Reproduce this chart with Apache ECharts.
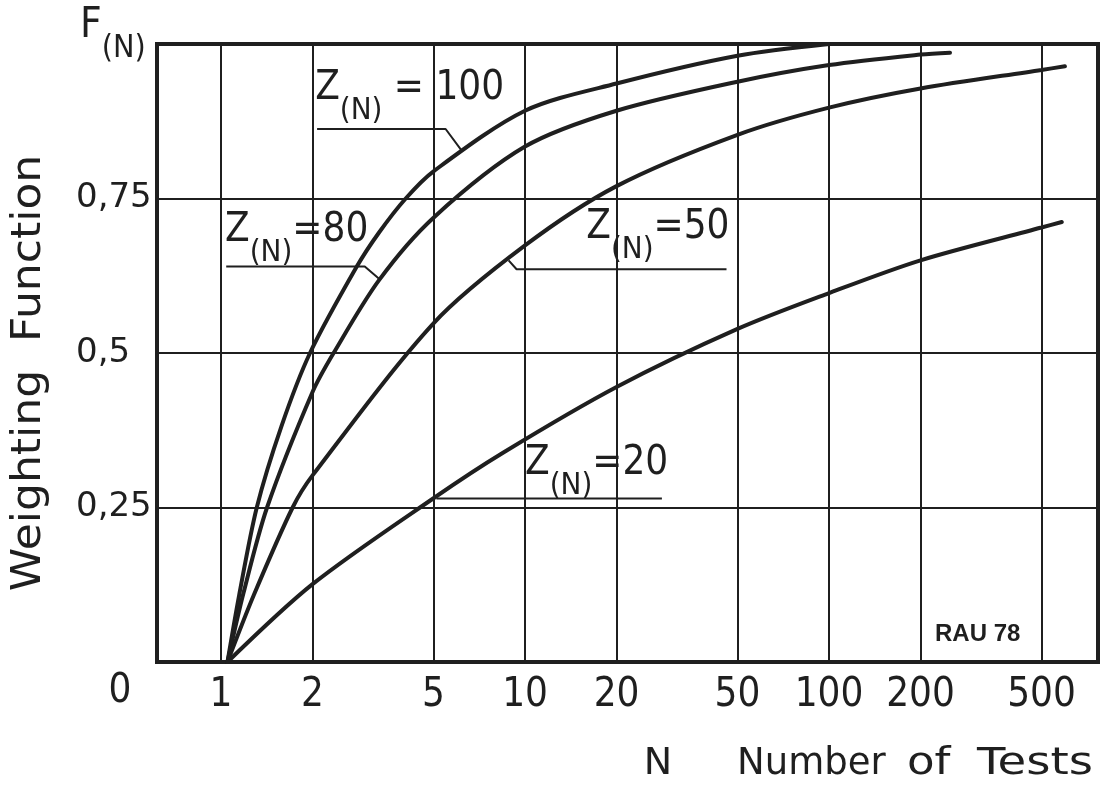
<!DOCTYPE html>
<html><head><meta charset="utf-8">
<script src="https://cdn.jsdelivr.net/npm/echarts@6/dist/echarts.min.js"></script>
<style>html,body{margin:0;padding:0;background:#fff}#c{width:1101px;height:787px}</style>
</head><body><div id="c"></div>
<script>
// ---- data ----
const xTicks = [1, 2, 5, 10, 20, 50, 100, 200, 500];
const xTickLabels = ['1', '2', '5', '10', '20', '50', '100', '200', '500'];
const yTicks = [0.25, 0.5, 0.75];
const yTickLabels = ['0,25', '0,5', '0,75'];

const z100N = [1.05, 1.147, 1.311, 1.579, 1.962, 2.79, 3.31, 4.05, 5, 10, 20, 50, 100];
const z100F = [0, 0.108, 0.25, 0.381, 0.5, 0.639, 0.695, 0.75, 0.794, 0.892, 0.936, 0.981, 1.0];
const z80N = [1.05, 1.186, 1.417, 2, 2.346, 3.31, 5, 10, 20, 50, 100, 200, 250];
const z80F = [0, 0.112, 0.25, 0.437, 0.5, 0.618, 0.719, 0.834, 0.892, 0.939, 0.966, 0.983, 0.986];
const z50N = [1.05, 1.281, 1.72, 2, 5, 10, 20, 50, 100, 200, 500, 597];
const z50F = [0, 0.108, 0.25, 0.302, 0.548, 0.674, 0.770, 0.853, 0.897, 0.928, 0.958, 0.964];
const z20N = [1.05, 2, 5, 8.49, 20, 50, 100, 200, 500, 583];
const z20F = [0, 0.126, 0.265, 0.339, 0.445, 0.539, 0.597, 0.650, 0.703, 0.712];

const curveNames = ['Z(N)=100', 'Z(N)=80', 'Z(N)=50', 'Z(N)=20'];
const curveValues = ['100', '80', '50', '20'];

// annotation leader lines (data coordinates N, F)
const leader100 = [[2.07, 0.8625], [5.48, 0.8625], [6.18, 0.828]];
const leader80 = [[1.04, 0.640], [2.97, 0.640], [3.31, 0.62]];
const leader50 = [[8.83, 0.65], [9.38, 0.6355], [46.0, 0.6355]];
const leader20 = [[5.11, 0.2645], [28.2, 0.2645]];
// annotation label anchors (left edge, vertical middle)
const anchor100 = [2.04, 0.913];
const anchor80 = [1.031, 0.683];
const anchor50 = [15.9, 0.688];
const anchor20 = [10.0, 0.306];

// ---- chart ----
const INK = '#1f1f1f';
const NARROW = "'Liberation Sans Narrow','DejaVu Sans Condensed','Liberation Sans',sans-serif";
const ROUND = "'DejaVu Sans',sans-serif";
const zip = (a, b) => a.map((v, i) => [v, b[i]]);

function curve(name, N, F) {
  return { name, type: 'line', data: zip(N, F), smooth: 0.3, symbol: 'none', z: 5,
    lineStyle: { color: INK, width: 4, cap: 'round' }, silent: true };
}
function leader(pts, anchor, val, sep) {
  return { type: 'line', data: pts, symbol: 'none', smooth: false, z: 4, silent: true,
    lineStyle: { color: INK, width: 2 },
    markPoint: { symbol: 'circle', symbolSize: 0, silent: true,
      data: [{ coord: anchor }],
      label: { show: true, position: 'right', distance: 0, color: INK,
        formatter: '{m|Z}{s|(N)}{m|' + sep + val + '}',
        rich: {
          m: { fontFamily: NARROW, fontSize: 40, lineHeight: 58, verticalAlign: 'top', color: INK },
          s: { fontFamily: NARROW, fontSize: 31, lineHeight: 58, verticalAlign: 'bottom', color: INK }
        } } } };
}

const chart = echarts.init(document.getElementById('c'), null, { renderer: 'canvas' });
chart.setOption({
  backgroundColor: '#ffffff',
  animation: false,
  grid: { left: 157, right: 3, top: 44, bottom: 125, show: true, borderColor: INK, borderWidth: 4, backgroundColor: 'transparent' },
  xAxis: {
    type: 'log', logBase: 10, min: 0.6157, max: 767,
    axisLine: { show: false }, axisTick: { show: false }, splitLine: { show: false },
    axisLabel: { show: true, customValues: xTicks, margin: 14, color: INK,
      fontFamily: NARROW, fontSize: 40,
      formatter: v => xTickLabels[xTicks.indexOf(Math.round(v * 1000) / 1000)] || '' }
  },
  yAxis: {
    type: 'value', min: 0, max: 1, interval: 0.25,
    axisLine: { show: false }, axisTick: { show: false },
    splitLine: { show: true, lineStyle: { color: INK, width: 2 } },
    axisLabel: { show: true, align: 'left', margin: 81, color: INK,
      fontFamily: ROUND, fontSize: 34,
      formatter: v => { const i = yTicks.indexOf(v); return i >= 0 ? yTickLabels[i] : ''; } }
  },
  series: [
    { type: 'line', data: [[1, 0]], symbol: 'none', lineStyle: { width: 0 }, z: 1, silent: true,
      markLine: { symbol: ['none', 'none'], silent: true, label: { show: false },
        lineStyle: { color: INK, width: 2, type: 'solid' },
        data: xTicks.map(v => ({ xAxis: v })) } },
    curve(curveNames[0], z100N, z100F),
    curve(curveNames[1], z80N, z80F),
    curve(curveNames[2], z50N, z50F),
    curve(curveNames[3], z20N, z20F),
    leader(leader100, anchor100, curveValues[0], ' = '),
    leader(leader80, anchor80, curveValues[1], '='),
    leader(leader50, anchor50, curveValues[2], '='),
    leader(leader20, anchor20, curveValues[3], '=')
  ],
  graphic: [
    { type: 'text', x: 80, y: 35, style: { text: '{F|F}{s|(N)}', verticalAlign: 'middle', fill: INK,
        rich: { F: { fontFamily: NARROW, fontSize: 42, lineHeight: 59, verticalAlign: 'top', fill: INK },
                s: { fontFamily: NARROW, fontSize: 32, lineHeight: 59, verticalAlign: 'bottom', fill: INK } } } },
    { type: 'text', x: 120, y: 692, style: { text: '0', font: '40px ' + NARROW, fill: INK, align: 'center', verticalAlign: 'middle' } },
    { type: 'text', x: 30, y: 373, rotation: Math.PI / 2, scaleX: 1.1,
      style: { text: 'Weighting  Function', font: '40px ' + ROUND, fill: INK, align: 'center', verticalAlign: 'middle' } },
    { type: 'text', x: 658, y: 764, style: { text: 'N', font: '38px ' + ROUND, fill: INK, align: 'center', verticalAlign: 'middle' } },
    { type: 'text', x: 737, y: 764, style: { text: 'Number', font: '37px ' + ROUND, fill: INK, align: 'left', verticalAlign: 'middle' } },
    { type: 'text', x: 907, y: 764, scaleX: 1.22, style: { text: 'of', font: '37px ' + ROUND, fill: INK, align: 'left', verticalAlign: 'middle' } },
    { type: 'text', x: 977, y: 764, scaleX: 1.26, style: { text: 'Tests', font: '37px ' + ROUND, fill: INK, align: 'left', verticalAlign: 'middle' } },
    { type: 'text', x: 935, y: 634, style: { text: 'RAU 78', font: 'bold 24px "Liberation Sans",sans-serif', fill: INK, align: 'left', verticalAlign: 'middle' } }
  ]
});
</script>
</body></html>
